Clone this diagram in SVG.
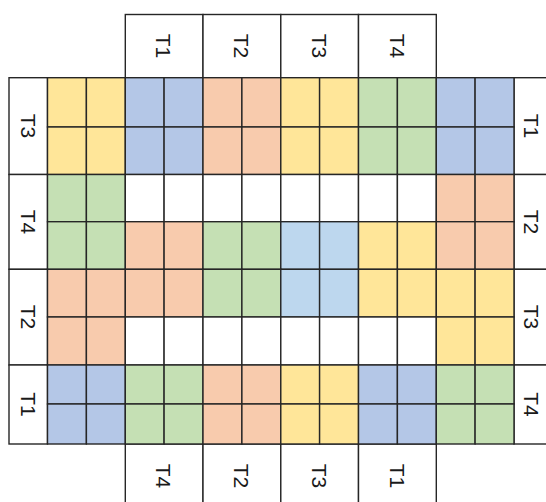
<svg xmlns="http://www.w3.org/2000/svg" width="546" height="502" viewBox="0 0 546 502">
<style>
rect{stroke:#262626;stroke-width:1.4}
.w{fill:#ffffff}.y{fill:#FFE699}.b{fill:#B4C7E7}.o{fill:#F8CBAD}.g{fill:#C5E0B4}.l{fill:#BDD7EE}
text{font-family:"Liberation Sans",Arial,sans-serif;font-size:21px;fill:#1a1a1a;text-anchor:middle;dominant-baseline:central}
</style>
<rect x="0" y="0" width="546" height="502" style="fill:#fff;stroke:none"/>
<g id="top-headers">
<rect class="w" x="125.3" y="14.5" width="77.7" height="63.2"/>
<rect class="w" x="203" y="14.5" width="77.8" height="63.2"/>
<rect class="w" x="280.8" y="14.5" width="77.7" height="63.2"/>
<rect class="w" x="358.5" y="14.5" width="77.8" height="63.2"/>
<text transform="translate(163,46) rotate(90)">T1</text>
<text transform="translate(241,46) rotate(90)">T2</text>
<text transform="translate(319,46) rotate(90)">T3</text>
<text transform="translate(397,46) rotate(90)">T4</text>
</g>
<g id="bottom-headers">
<rect class="w" x="125.3" y="444" width="77.7" height="70"/>
<rect class="w" x="203" y="444" width="77.8" height="70"/>
<rect class="w" x="280.8" y="444" width="77.7" height="70"/>
<rect class="w" x="358.5" y="444" width="77.8" height="70"/>
<text transform="translate(163,476) rotate(90)">T4</text>
<text transform="translate(241,476) rotate(90)">T2</text>
<text transform="translate(319,476) rotate(90)">T3</text>
<text transform="translate(397,476) rotate(90)">T1</text>
</g>
<g id="left-labels">
<rect class="w" x="9" y="77.7" width="38.5" height="96.8"/>
<rect class="w" x="9" y="174.5" width="38.5" height="94.8"/>
<rect class="w" x="9" y="269.3" width="38.5" height="95.7"/>
<rect class="w" x="9" y="365" width="38.5" height="79"/>
<text transform="translate(28,126) rotate(90)">T3</text>
<text transform="translate(28,222) rotate(90)">T4</text>
<text transform="translate(28,317) rotate(90)">T2</text>
<text transform="translate(28,404.5) rotate(90)">T1</text>
</g>
<g id="right-labels">
<rect class="w" x="514" y="77.7" width="40" height="96.8"/>
<rect class="w" x="514" y="174.5" width="40" height="94.8"/>
<rect class="w" x="514" y="269.3" width="40" height="95.7"/>
<rect class="w" x="514" y="365" width="40" height="79"/>
<text transform="translate(531,126) rotate(90)">T1</text>
<text transform="translate(531,222) rotate(90)">T2</text>
<text transform="translate(531,317) rotate(90)">T3</text>
<text transform="translate(531,404.5) rotate(90)">T4</text>
</g>
<g id="grid">
<g id="row0">
<rect class="y" x="47.5" y="77.7" width="38.9" height="49.3"/><rect class="y" x="86.4" y="77.7" width="38.9" height="49.3"/>
<rect class="b" x="125.3" y="77.7" width="38.8" height="49.3"/><rect class="b" x="164.1" y="77.7" width="38.9" height="49.3"/>
<rect class="o" x="203" y="77.7" width="38.9" height="49.3"/><rect class="o" x="241.9" y="77.7" width="38.9" height="49.3"/>
<rect class="y" x="280.8" y="77.7" width="38.8" height="49.3"/><rect class="y" x="319.6" y="77.7" width="38.9" height="49.3"/>
<rect class="g" x="358.5" y="77.7" width="38.9" height="49.3"/><rect class="g" x="397.4" y="77.7" width="38.9" height="49.3"/>
<rect class="b" x="436.3" y="77.7" width="38.8" height="49.3"/><rect class="b" x="475.1" y="77.7" width="38.9" height="49.3"/>
</g>
<g id="row1">
<rect class="y" x="47.5" y="127" width="38.9" height="47.5"/><rect class="y" x="86.4" y="127" width="38.9" height="47.5"/>
<rect class="b" x="125.3" y="127" width="38.8" height="47.5"/><rect class="b" x="164.1" y="127" width="38.9" height="47.5"/>
<rect class="o" x="203" y="127" width="38.9" height="47.5"/><rect class="o" x="241.9" y="127" width="38.9" height="47.5"/>
<rect class="y" x="280.8" y="127" width="38.8" height="47.5"/><rect class="y" x="319.6" y="127" width="38.9" height="47.5"/>
<rect class="g" x="358.5" y="127" width="38.9" height="47.5"/><rect class="g" x="397.4" y="127" width="38.9" height="47.5"/>
<rect class="b" x="436.3" y="127" width="38.8" height="47.5"/><rect class="b" x="475.1" y="127" width="38.9" height="47.5"/>
</g>
<g id="row2">
<rect class="g" x="47.5" y="174.5" width="38.9" height="47.2"/><rect class="g" x="86.4" y="174.5" width="38.9" height="47.2"/>
<rect class="w" x="125.3" y="174.5" width="38.8" height="47.2"/><rect class="w" x="164.1" y="174.5" width="38.9" height="47.2"/>
<rect class="w" x="203" y="174.5" width="38.9" height="47.2"/><rect class="w" x="241.9" y="174.5" width="38.9" height="47.2"/>
<rect class="w" x="280.8" y="174.5" width="38.8" height="47.2"/><rect class="w" x="319.6" y="174.5" width="38.9" height="47.2"/>
<rect class="w" x="358.5" y="174.5" width="38.9" height="47.2"/><rect class="w" x="397.4" y="174.5" width="38.9" height="47.2"/>
<rect class="o" x="436.3" y="174.5" width="38.8" height="47.2"/><rect class="o" x="475.1" y="174.5" width="38.9" height="47.2"/>
</g>
<g id="row3">
<rect class="g" x="47.5" y="221.7" width="38.9" height="47.6"/><rect class="g" x="86.4" y="221.7" width="38.9" height="47.6"/>
<rect class="o" x="125.3" y="221.7" width="38.8" height="47.6"/><rect class="o" x="164.1" y="221.7" width="38.9" height="47.6"/>
<rect class="g" x="203" y="221.7" width="38.9" height="47.6"/><rect class="g" x="241.9" y="221.7" width="38.9" height="47.6"/>
<rect class="l" x="280.8" y="221.7" width="38.8" height="47.6"/><rect class="l" x="319.6" y="221.7" width="38.9" height="47.6"/>
<rect class="y" x="358.5" y="221.7" width="38.9" height="47.6"/><rect class="y" x="397.4" y="221.7" width="38.9" height="47.6"/>
<rect class="o" x="436.3" y="221.7" width="38.8" height="47.6"/><rect class="o" x="475.1" y="221.7" width="38.9" height="47.6"/>
</g>
<g id="row4">
<rect class="o" x="47.5" y="269.3" width="38.9" height="47.7"/><rect class="o" x="86.4" y="269.3" width="38.9" height="47.7"/>
<rect class="o" x="125.3" y="269.3" width="38.8" height="47.7"/><rect class="o" x="164.1" y="269.3" width="38.9" height="47.7"/>
<rect class="g" x="203" y="269.3" width="38.9" height="47.7"/><rect class="g" x="241.9" y="269.3" width="38.9" height="47.7"/>
<rect class="l" x="280.8" y="269.3" width="38.8" height="47.7"/><rect class="l" x="319.6" y="269.3" width="38.9" height="47.7"/>
<rect class="y" x="358.5" y="269.3" width="38.9" height="47.7"/><rect class="y" x="397.4" y="269.3" width="38.9" height="47.7"/>
<rect class="y" x="436.3" y="269.3" width="38.8" height="47.7"/><rect class="y" x="475.1" y="269.3" width="38.9" height="47.7"/>
</g>
<g id="row5">
<rect class="o" x="47.5" y="317" width="38.9" height="48"/><rect class="o" x="86.4" y="317" width="38.9" height="48"/>
<rect class="w" x="125.3" y="317" width="38.8" height="48"/><rect class="w" x="164.1" y="317" width="38.9" height="48"/>
<rect class="w" x="203" y="317" width="38.9" height="48"/><rect class="w" x="241.9" y="317" width="38.9" height="48"/>
<rect class="w" x="280.8" y="317" width="38.8" height="48"/><rect class="w" x="319.6" y="317" width="38.9" height="48"/>
<rect class="w" x="358.5" y="317" width="38.9" height="48"/><rect class="w" x="397.4" y="317" width="38.9" height="48"/>
<rect class="y" x="436.3" y="317" width="38.8" height="48"/><rect class="y" x="475.1" y="317" width="38.9" height="48"/>
</g>
<g id="row6">
<rect class="b" x="47.5" y="365" width="38.9" height="39"/><rect class="b" x="86.4" y="365" width="38.9" height="39"/>
<rect class="g" x="125.3" y="365" width="38.8" height="39"/><rect class="g" x="164.1" y="365" width="38.9" height="39"/>
<rect class="o" x="203" y="365" width="38.9" height="39"/><rect class="o" x="241.9" y="365" width="38.9" height="39"/>
<rect class="y" x="280.8" y="365" width="38.8" height="39"/><rect class="y" x="319.6" y="365" width="38.9" height="39"/>
<rect class="b" x="358.5" y="365" width="38.9" height="39"/><rect class="b" x="397.4" y="365" width="38.9" height="39"/>
<rect class="g" x="436.3" y="365" width="38.8" height="39"/><rect class="g" x="475.1" y="365" width="38.9" height="39"/>
</g>
<g id="row7">
<rect class="b" x="47.5" y="404" width="38.9" height="40"/><rect class="b" x="86.4" y="404" width="38.9" height="40"/>
<rect class="g" x="125.3" y="404" width="38.8" height="40"/><rect class="g" x="164.1" y="404" width="38.9" height="40"/>
<rect class="o" x="203" y="404" width="38.9" height="40"/><rect class="o" x="241.9" y="404" width="38.9" height="40"/>
<rect class="y" x="280.8" y="404" width="38.8" height="40"/><rect class="y" x="319.6" y="404" width="38.9" height="40"/>
<rect class="b" x="358.5" y="404" width="38.9" height="40"/><rect class="b" x="397.4" y="404" width="38.9" height="40"/>
<rect class="g" x="436.3" y="404" width="38.8" height="40"/><rect class="g" x="475.1" y="404" width="38.9" height="40"/>
</g>
</g>
</svg>
